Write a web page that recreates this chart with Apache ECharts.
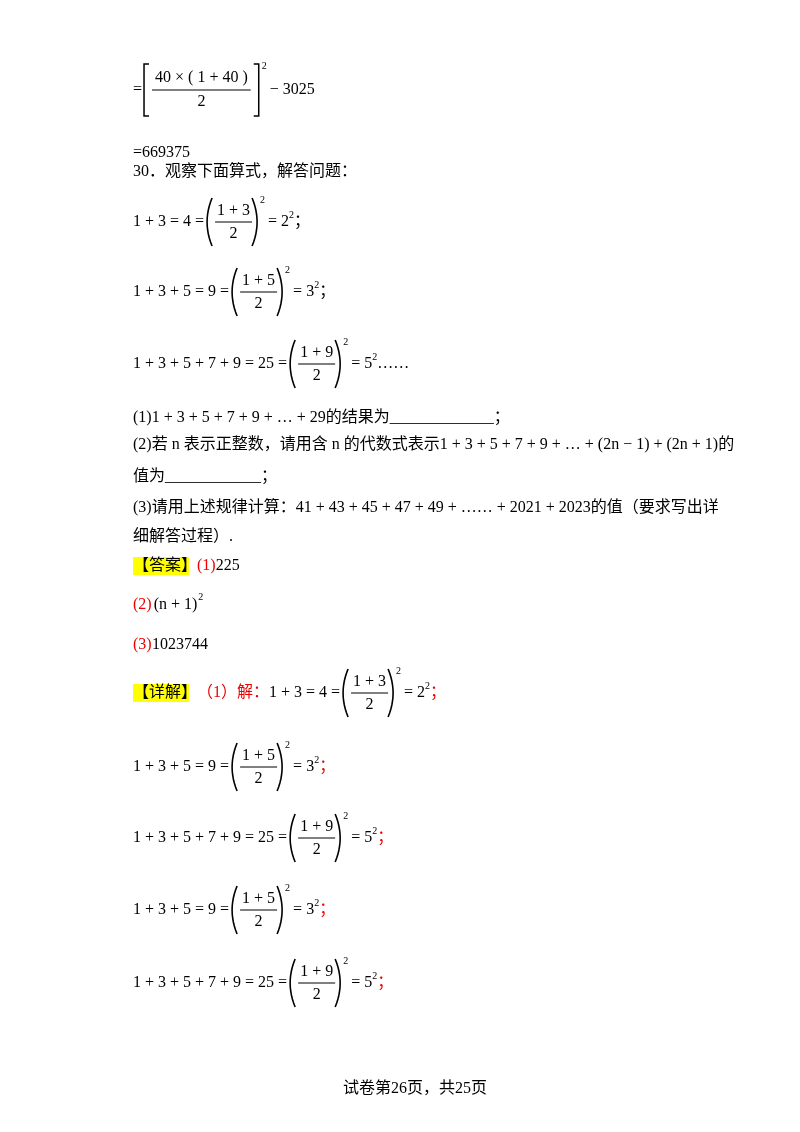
<!DOCTYPE html>
<html><head><meta charset="utf-8">
<script src="https://cdn.jsdelivr.net/npm/echarts@6/dist/echarts.min.js"></script>
<style>html,body{margin:0;padding:0;background:#fff}#c{width:800px;height:1132px}</style>
</head><body><div id="c"></div>
<script>
var FONT = '"Liberation Serif","Noto Sans CJK SC",serif';
var BASE = 16;

// fraction rows: [prefix, numerator, denominator, result base, result exp, tail, tailColor, y]
var fracRows = [
  ['1 + 3 = 4 =', '1 + 3', '2', '2', '2', '；', '#000', 222],
  ['1 + 3 + 5 = 9 =', '1 + 5', '2', '3', '2', '；', '#000', 292],
  ['1 + 3 + 5 + 7 + 9 = 25 =', '1 + 9', '2', '5', '2', '……', '#000', 364],
  ['1 + 3 + 5 = 9 =', '1 + 5', '2', '3', '2', '；', '#e00', 767],
  ['1 + 3 + 5 + 7 + 9 = 25 =', '1 + 9', '2', '5', '2', '；', '#e00', 838],
  ['1 + 3 + 5 = 9 =', '1 + 5', '2', '3', '2', '；', '#e00', 910],
  ['1 + 3 + 5 + 7 + 9 = 25 =', '1 + 9', '2', '5', '2', '；', '#e00', 983]
];
var plainLines = [
  ['=669375', 133, 153],
  ['30．观察下面算式，解答问题：', 133, 172],
  ['(1)1 + 3 + 5 + 7 + 9 + … + 29的结果为_____________；', 133, 418],
  ['(2)若 n 表示正整数，请用含 n 的代数式表示1 + 3 + 5 + 7 + 9 + … + (2n − 1) + (2n + 1)的', 133, 445],
  ['值为____________；', 133, 477],
  ['(3)请用上述规律计算：41 + 43 + 45 + 47 + 49 + …… + 2021 + 2023的值（要求写出详', 133, 508],
  ['细解答过程）.', 133, 537],
  ['1023744', 152, 645],
  ['试卷第26页，共25页', 343, 1089]
];

var ctx = document.createElement('canvas').getContext('2d');
function w(s, size) { ctx.font = (size || BASE) + 'px ' + FONT; return ctx.measureText(s).width; }
var els = [];
function txt(s, x, y, opt) {
  opt = opt || {};
  els.push({ type: 'text', x: x, y: y, style: { text: s, fill: opt.color || '#000', font: (opt.size || BASE) + 'px ' + FONT, textVerticalAlign: 'middle', textAlign: opt.align || 'left' } });
  return x + w(s, opt.size || BASE);
}
function paren(left, x, y) {
  // thin curved bracket drawn as a quadratic-ish polyline
  var pts = [], h = 24, d = 5;
  for (var i = 0; i <= 12; i++) {
    var t = i / 12, yy = y - h + 2 * h * t, bulge = 1 - Math.pow(2 * t - 1, 2);
    pts.push([left ? x + d - d * bulge : x + d * bulge, yy]);
  }
  els.push({ type: 'polyline', shape: { points: pts }, style: { stroke: '#000', lineWidth: 1.6, fill: null } });
  return x + 8;
}
function fracRow(r, startX) {
  var y = r[7], x = startX;
  x = txt(r[0], x, y) + 3;
  x = paren(true, x, y);
  var fw = Math.max(w(r[1]), w(r[2])) + 4;
  txt(r[1], x + fw / 2, y - 11, { align: 'center' });
  txt(r[2], x + fw / 2, y + 12, { align: 'center' });
  els.push({ type: 'line', shape: { x1: x, y1: y, x2: x + fw, y2: y }, style: { stroke: '#000', lineWidth: 1 } });
  x = paren(false, x + fw, y);
  txt('2', x, y - 22, { size: 10 });
  x = txt(' = ' + r[3], x + 4, y);
  x = txt(r[4], x, y - 7, { size: 10 });
  txt(r[5], x, y, { color: r[6] });
}

// first line
(function () {
  var y = 90, x = 133;
  x = txt('=', x, y);
  els.push({ type: 'polyline', shape: { points: [[x + 7, y - 26], [x + 2, y - 26], [x + 2, y + 26], [x + 7, y + 26]] }, style: { stroke: '#000', lineWidth: 1.5, fill: null } });
  x += 10;
  var num = '40 × ( 1 + 40 )', fw = w(num) + 6;
  txt(num, x + fw / 2, y - 12, { align: 'center' });
  txt('2', x + fw / 2, y + 12, { align: 'center' });
  els.push({ type: 'line', shape: { x1: x, y1: y, x2: x + fw, y2: y }, style: { stroke: '#000', lineWidth: 1 } });
  x += fw + 3;
  els.push({ type: 'polyline', shape: { points: [[x, y - 26], [x + 5, y - 26], [x + 5, y + 26], [x, y + 26]] }, style: { stroke: '#000', lineWidth: 1.5, fill: null } });
  txt('2', x + 8, y - 24, { size: 10 });
  txt('− 3025', x + 16, y);
})();

plainLines.forEach(function (l) { txt(l[0], l[1], l[2]); });
fracRows.forEach(function (r) { fracRow(r, 133); });

// 答案
els.push({ type: 'rect', shape: { x: 133, y: 557, width: 56, height: 18 }, style: { fill: '#ffff00' } });
var x1 = txt('【答案】', 133, 566);
x1 = txt('(1)', x1, 566, { color: '#e00' });
txt('225', x1, 566);
var x2 = txt('(2)', 133, 605, { color: '#e00' });
x2 = txt('(n + 1)', x2 + 2, 605);
txt('2', x2 + 1, 597, { size: 10 });
txt('(3)', 133, 645, { color: '#e00' });

// 详解
els.push({ type: 'rect', shape: { x: 133, y: 684, width: 56, height: 18 }, style: { fill: '#ffff00' } });
var x3 = txt('【详解】', 133, 693);
x3 = txt('（1）解：', x3, 693, { color: '#e00' });
fracRow(['1 + 3 = 4 =', '1 + 3', '2', '2', '2', '；', '#e00', 693], x3);

var chart = echarts.init(document.getElementById('c'));
chart.setOption({ backgroundColor: '#fff', graphic: { elements: els } });
</script></body></html>
